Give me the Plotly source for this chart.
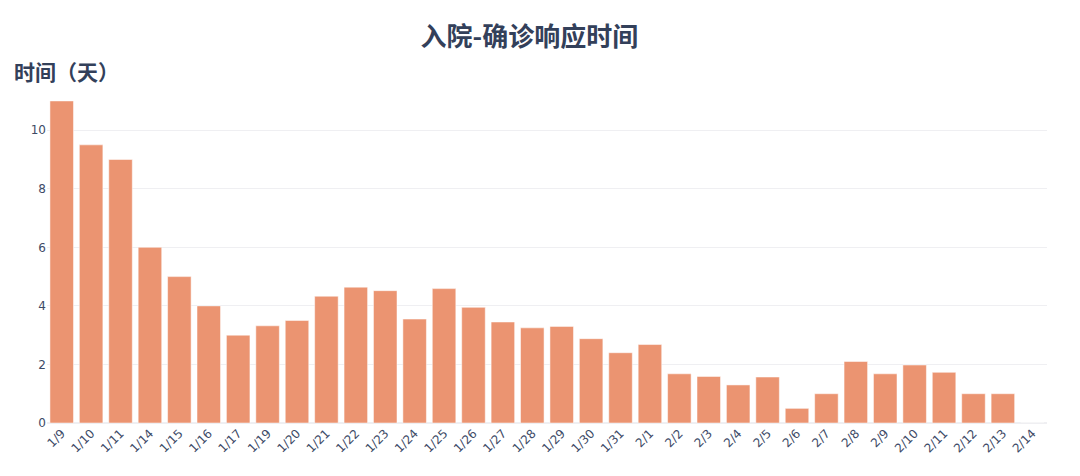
import plotly.graph_objects as go

# Dates and response time (days)
dates = [
    "1/9", "1/10", "1/11", "1/14", "1/15", "1/16", "1/17", "1/19", "1/20",
    "1/21", "1/22", "1/23", "1/24", "1/25", "1/26", "1/27", "1/28", "1/29",
    "1/30", "1/31", "2/1", "2/2", "2/3", "2/4", "2/5", "2/6", "2/7", "2/8",
    "2/9", "2/10", "2/11", "2/12", "2/13", "2/14",
]
days = [
    11.0, 9.5, 9.0, 6.0, 5.0, 4.0, 3.0, 3.32, 3.5,
    4.33, 4.64, 4.52, 3.55, 4.59, 3.95, 3.45, 3.25, 3.3,
    2.88, 2.4, 2.68, 1.68, 1.59, 1.3, 1.57, 0.5, 1.0, 2.1,
    1.68, 1.98, 1.73, 1.0, 1.0, 0,
]

cjk_font = "Noto Sans CJK SC, sans-serif"

fig = go.Figure(
    go.Bar(
        x=dates,
        y=days,
        marker=dict(color="#EB9471", line=dict(color="white", width=0.5)),
    )
)

# page body has an 8px margin, so the figure is a bit smaller than the window
fig.update_layout(
    template="plotly_white",
    width=1064,
    height=460,
    margin=dict(l=39, r=25, t=76, b=45),
    font=dict(family="DejaVu Sans, Verdana, sans-serif", color="#3d4a66"),
    title=dict(
        text="<b>入院-确诊响应时间</b>",
        x=0.49,
        xanchor="center",
        y=0.937,
        yanchor="middle",
        font=dict(size=26, color="#33405a", family=cjk_font),
    ),
    bargap=0.2,
    showlegend=False,
)

# Y axis title sits horizontally above the axis
fig.add_annotation(
    text="<b>时间（天）</b>",
    xref="paper",
    yref="paper",
    x=-0.035,
    y=1.0,
    xanchor="left",
    yanchor="middle",
    yshift=13,
    showarrow=False,
    font=dict(size=21, color="#33405a", family=cjk_font),
)

fig.update_xaxes(tickangle=-45, tickfont=dict(size=12))
fig.update_yaxes(tickfont=dict(size=12), dtick=2, showline=False,
                 gridcolor="#efeff2", zerolinecolor="#efeff2")

fig.write_html("out.html")
